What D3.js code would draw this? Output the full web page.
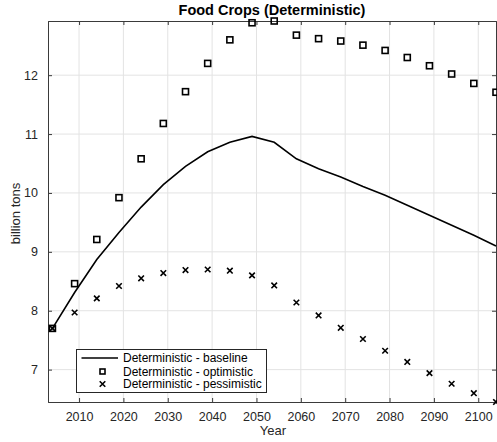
<!DOCTYPE html>
<html>
<head>
<meta charset="utf-8">
<script src="https://cdn.jsdelivr.net/npm/d3@7"></script>
<style>
  body { margin: 0; background: #fff; }
  svg { font-family: "Liberation Sans", Arial, sans-serif; display: block; }
</style>
</head>
<body>
<svg id="chart" width="497" height="442"></svg>
<script>
// data
var years = [2004, 2009, 2014, 2019, 2024, 2029, 2034, 2039, 2044, 2049, 2054,
             2059, 2064, 2069, 2074, 2079, 2084, 2089, 2094, 2099, 2104];
var baseline = [7.70, 8.31, 8.87, 9.33, 9.76, 10.14, 10.45, 10.70, 10.86, 10.96, 10.86,
                10.58, 10.41, 10.27, 10.11, 9.96, 9.79, 9.62, 9.45, 9.28, 9.10];
var optimistic = [7.70, 8.46, 9.21, 9.92, 10.58, 11.18, 11.72, 12.20, 12.60, 12.89, 12.92,
                  12.68, 12.62, 12.58, 12.51, 12.42, 12.30, 12.16, 12.02, 11.86, 11.71];
var pessimistic = [7.70, 7.97, 8.21, 8.42, 8.55, 8.64, 8.69, 8.70, 8.68, 8.60, 8.43,
                   8.14, 7.92, 7.71, 7.52, 7.32, 7.13, 6.94, 6.76, 6.60, 6.45];
var xTicks = [2010, 2020, 2030, 2040, 2050, 2060, 2070, 2080, 2090, 2100];
var yTicks = [7, 8, 9, 10, 11, 12];
var seriesNames = ["Deterministic - baseline", "Deterministic - optimistic", "Deterministic - pessimistic"];

var svg = d3.select("#chart");
var margin = {top: 21, right: 1, bottom: 40, left: 48},
    width = 497 - margin.left - margin.right,
    height = 442 - margin.top - margin.bottom;

var x = d3.scaleLinear().domain([2003, 2104]).range([0, width]);
var y = d3.scaleLinear().domain([6.45, 12.92]).range([height, 0]);

var g = svg.append("g")
  .attr("transform", "translate(" + margin.left + "," + margin.top + ")");

// grid
g.append("g").selectAll("line")
  .data(xTicks).enter().append("line")
  .attr("x1", d => x(d)).attr("x2", d => x(d))
  .attr("y1", 0).attr("y2", height)
  .attr("stroke", "#e3e3e3").attr("stroke-width", 1);
g.append("g").selectAll("line")
  .data(yTicks).enter().append("line")
  .attr("x1", 0).attr("x2", width)
  .attr("y1", d => y(d)).attr("y2", d => y(d))
  .attr("stroke", "#e3e3e3").attr("stroke-width", 1);

// axes (ticks inward, box on all sides)
var axisColor = "#3a3a3a";
var bottomAxis = g.append("g").attr("transform", "translate(0," + height + ")")
  .call(d3.axisBottom(x).tickValues(xTicks).tickFormat(d3.format("d")).tickSize(-4).tickPadding(10));
var topAxis = g.append("g")
  .call(d3.axisTop(x).tickValues(xTicks).tickFormat("").tickSize(-4));
var leftAxis = g.append("g")
  .call(d3.axisLeft(y).tickValues(yTicks).tickFormat(d3.format("d")).tickSize(-4).tickPadding(10));
var rightAxis = g.append("g").attr("transform", "translate(" + width + ",0)")
  .call(d3.axisRight(y).tickValues(yTicks).tickFormat("").tickSize(-4));

[bottomAxis, topAxis, leftAxis, rightAxis].forEach(function(a) {
  a.select(".domain").attr("stroke", axisColor).attr("stroke-width", 1);
  a.selectAll(".tick line").attr("stroke", axisColor);
  a.selectAll(".tick text").attr("fill", "#262626").attr("font-size", "12.5px")
    .attr("font-family", "Liberation Sans, Arial, sans-serif");
});

// baseline line
var line = d3.line()
  .x((d, i) => x(years[i]))
  .y(d => y(d));
g.append("path")
  .datum(baseline)
  .attr("d", line)
  .attr("fill", "none")
  .attr("stroke", "#000")
  .attr("stroke-width", 1.6);

// optimistic squares
g.append("g").selectAll("rect")
  .data(optimistic).enter().append("rect")
  .attr("x", (d, i) => x(years[i]) - 3)
  .attr("y", d => y(d) - 3)
  .attr("width", 6).attr("height", 6)
  .attr("fill", "none").attr("stroke", "#000").attr("stroke-width", 1.6);

// pessimistic crosses
var cross = d3.symbol().type(d3.symbolX).size(22);
g.append("g").selectAll("path")
  .data(pessimistic).enter().append("path")
  .attr("transform", (d, i) => "translate(" + x(years[i]) + "," + y(d) + ")")
  .attr("d", cross)
  .attr("fill", "none").attr("stroke", "#000").attr("stroke-width", 1.6);

// title and axis labels
svg.append("text")
  .attr("x", margin.left + width / 2).attr("y", 15)
  .attr("text-anchor", "middle")
  .attr("font-size", "14.5px").attr("font-weight", "bold").attr("fill", "#000")
  .text("Food Crops (Deterministic)");

svg.append("text")
  .attr("x", margin.left + width / 2 + 1).attr("y", 435)
  .attr("text-anchor", "middle")
  .attr("font-size", "13px").attr("fill", "#262626")
  .text("Year");

svg.append("text")
  .attr("transform", "translate(20," + (margin.top + height / 2 + 2) + ") rotate(-90)")
  .attr("text-anchor", "middle")
  .attr("font-size", "13px").attr("fill", "#262626")
  .text("billion tons");

// legend
var legend = g.append("g").attr("transform", "translate(" + (76.5 - margin.left) + "," + (349.5 - margin.top) + ")");
legend.append("rect")
  .attr("width", 190).attr("height", 43)
  .attr("fill", "#fff").attr("stroke", "#262626").attr("stroke-width", 1);

var rowY = [8.5, 22, 34.5];
legend.append("line")
  .attr("x1", 5).attr("x2", 41.5).attr("y1", rowY[0]).attr("y2", rowY[0])
  .attr("stroke", "#000").attr("stroke-width", 1.6);
legend.append("rect")
  .attr("x", 23.5).attr("y", rowY[1] - 2.5).attr("width", 5).attr("height", 5)
  .attr("fill", "none").attr("stroke", "#000").attr("stroke-width", 1.6);
legend.append("path")
  .attr("transform", "translate(26," + rowY[2] + ")")
  .attr("d", cross)
  .attr("fill", "none").attr("stroke", "#000").attr("stroke-width", 1.6);

legend.selectAll("text.lab")
  .data(seriesNames).enter().append("text")
  .attr("class", "lab")
  .attr("x", 46.5).attr("y", (d, i) => rowY[i] + 4)
  .attr("font-size", "12px").attr("fill", "#000")
  .text(d => d);
</script>
</body>
</html>
